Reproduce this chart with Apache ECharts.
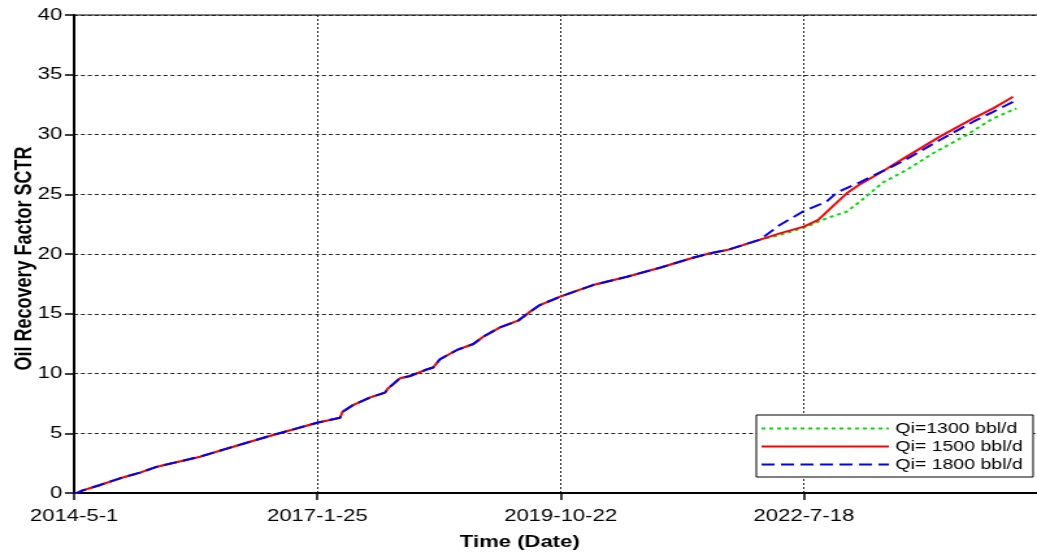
<!DOCTYPE html>
<html>
<head>
<meta charset="utf-8">
<script src="https://cdn.jsdelivr.net/npm/echarts@6/dist/echarts.min.js"></script>
<style>
  html, body { margin: 0; padding: 0; background: #fff; overflow: hidden; }
  /* the reference is stretched sideways, so draw narrow and widen it */
  #chart { width: 798px; height: 554px; transform: scaleX(1.2995); transform-origin: 0 0; }
</style>
</head>
<body>
<div id="chart"></div>
<script>
// days counted from 2014-5-1
var xTicks = ['2014-5-1', '2017-1-25', '2019-10-22', '2022-7-18'];

// shared history (all three cases lie on it)
var dayBase = [0, 15, 33, 107, 189, 271, 341, 518, 654, 793, 999, 1093, 1104, 1147, 1217, 1278, 1291,
  1340, 1381, 1443, 1476, 1504, 1574, 1641, 1682, 1751, 1825, 1874, 1915, 1998, 2133, 2273, 2408,
  2544, 2614, 2684, 2820];
var recBase = [0, 0.03, 0.2, 0.67, 1.23, 1.7, 2.2, 3.04, 3.87, 4.71, 5.88, 6.3, 6.8, 7.36, 8.0, 8.4, 8.76,
  9.6, 9.79, 10.29, 10.5, 11.19, 11.97, 12.47, 13.08, 13.86, 14.42, 15.17, 15.73, 16.43, 17.4, 18.1, 18.85,
  19.69, 20.06, 20.33, 21.2];

// forecast part per injection rate
var day1300 = [2901, 3000, 3093, 3176, 3230, 3326, 3422, 3531, 3669, 3778, 3874];
var rec1300 = [21.59, 22.2, 22.99, 23.54, 24.38, 26.0, 27.03, 28.43, 29.96, 31.35, 32.19];
var day1500 = [2901, 3000, 3059, 3107, 3176, 3230, 3326, 3422, 3559, 3696, 3778, 3860];
var rec1500 = [21.73, 22.29, 22.85, 23.77, 25.08, 25.83, 26.95, 28.15, 29.82, 31.35, 32.19, 33.16];
var day1800 = [2901, 3000, 3093, 3137, 3230, 3326, 3408, 3559, 3696, 3778, 3860];
var rec1800 = [22.43, 23.6, 24.38, 25.16, 26.0, 26.95, 27.78, 29.54, 31.07, 31.9, 32.74];

var seriesNames = ['Qi=1300 bbl/d', 'Qi= 1500 bbl/d', 'Qi= 1800 bbl/d'];

function toPairs(days, vals) {
  var out = [];
  for (var i = 0; i < dayBase.length; i++) out.push([dayBase[i], recBase[i]]);
  for (var j = 0; j < days.length; j++) out.push([days[j], vals[j]]);
  return out;
}

var font = 'Liberation Sans, Arial, sans-serif';
var myChart = echarts.init(document.getElementById('chart'));

var option = {
  animation: false,
  grid: {
    left: 57, right: -2, top: 15, bottom: 61,
    outerBoundsMode: 'none',
    containLabel: false,
    show: true, borderColor: '#000', borderWidth: 1
  },
  legend: {
    orient: 'vertical',
    left: 582, top: 415,
    padding: [6, 8, 5, 3],
    itemWidth: 98, itemHeight: 14, itemGap: 3,
    backgroundColor: '#fff', borderColor: '#000', borderWidth: 1, borderRadius: 0,
    itemStyle: { opacity: 0 },
    textStyle: { fontFamily: font, fontSize: 15, color: '#000' },
    data: seriesNames
  },
  xAxis: {
    type: 'value',
    min: 0, max: 3969, interval: 1000,
    name: 'Time (Date)',
    nameLocation: 'middle',
    nameGap: 41,
    nameMoveOverlap: false,
    nameTextStyle: { fontFamily: font, fontSize: 17, fontWeight: 'bold', color: '#000', padding: [0, 57, 0, 0] },
    axisLine: { lineStyle: { color: '#000', width: 2 } },
    axisTick: { length: 7, lineStyle: { color: '#000', width: 1.5 } },
    axisLabel: {
      fontFamily: font, fontSize: 17, color: '#000', margin: 15, showMaxLabel: false,
      formatter: function (v) {
        var k = Math.round(v / 1000);
        return (v % 1000 === 0 && xTicks[k]) ? xTicks[k] : '';
      }
    },
    splitLine: { show: true, lineStyle: { color: '#222', width: 1, type: [2, 2] } }
  },
  yAxis: {
    type: 'value',
    min: 0, max: 40, interval: 5,
    name: 'Oil Recovery Factor SCTR',
    nameLocation: 'middle',
    nameGap: 29,
    nameMoveOverlap: false,
    nameTextStyle: { fontFamily: font, fontSize: 18, fontWeight: 'bold', color: '#000', padding: [0, 9, 0, 0] },
    axisLine: { show: true, lineStyle: { color: '#000', width: 2 } },
    axisTick: { show: true, length: 7, lineStyle: { color: '#000', width: 1.5 } },
    axisLabel: { fontFamily: font, fontSize: 17, color: '#000', margin: 9 },
    splitLine: { show: true, lineStyle: { color: '#222', width: 1, type: [3, 2.3] } }
  },
  series: [
    {
      name: seriesNames[0], type: 'line', symbol: 'none',
      lineStyle: { color: '#00dd00', width: 2, type: [3, 3] },
      itemStyle: { color: '#00dd00' },
      data: toPairs(day1300, rec1300)
    },
    {
      name: seriesNames[1], type: 'line', symbol: 'none',
      lineStyle: { color: '#ff0000', width: 2, type: 'solid' },
      itemStyle: { color: '#ff0000' },
      data: toPairs(day1500, rec1500)
    },
    {
      name: seriesNames[2], type: 'line', symbol: 'none',
      lineStyle: { color: '#0000ff', width: 2, type: [10, 5] },
      itemStyle: { color: '#0000ff' },
      data: toPairs(day1800, rec1800)
    }
  ]
};

myChart.setOption(option);
</script>
</body>
</html>
